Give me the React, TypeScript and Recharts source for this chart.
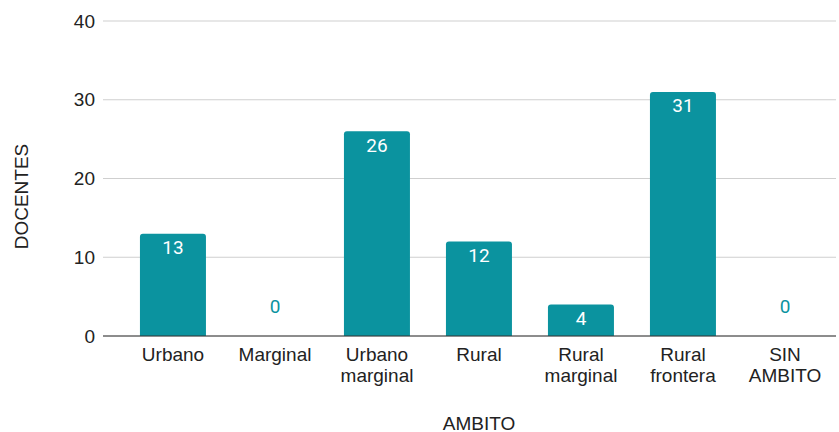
import { ComposedChart, Bar, Line, XAxis, YAxis, CartesianGrid, LabelList } from 'recharts'

const ambitos = ['Urbano', 'Marginal', 'Urbano marginal', 'Rural', 'Rural marginal', 'Rural frontera', 'SIN AMBITO']
const docentes = [13, 0, 26, 12, 4, 31, 0]
const yTicks = [0, 10, 20, 30, 40]

const data = ambitos.map((ambito, i) => ({ ambito, docentes: docentes[i] }))

const TEAL = '#0b939f'
const AXIS_FONT = '"Liberation Sans", Arial, sans-serif'

function CategoryTick(props: any) {
  const { x, y, payload } = props
  const lines = String(payload.value).split(' ')
  return (
    <text x={x} y={y} textAnchor="middle" fill="#222" fontSize={19} fontFamily={AXIS_FONT}>
      {lines.map((l, i) => (
        <tspan key={i} x={x} dy={i === 0 ? 17 : 21}>{l}</tspan>
      ))}
    </text>
  )
}

// label sits inside the top of the bar, or above the baseline when the value is 0
function ValueLabel(props: any) {
  const { x, y, value } = props
  const inside = Number(value) > 0
  return (
    <text
      x={x}
      y={inside ? y + 14 : y - 30}
      textAnchor="middle"
      dominantBaseline="central"
      fill={inside ? '#fff' : TEAL}
      fontSize={19}
      fontFamily="Roboto, sans-serif"
    >
      {value}
    </text>
  )
}

export default function App() {
  return (
    <div style={{ position: 'absolute', left: 0, top: 0, background: '#fff' }}>
      <ComposedChart width={839} height={432} data={data} margin={{ top: 21, right: 3, left: 0, bottom: 0 }} barCategoryGap="17.6%">
        <CartesianGrid vertical={false} stroke="#cfcfcf" />
        <XAxis
          dataKey="ambito"
          height={96}
          padding={{ left: 19, right: 0 }}
          axisLine={{ stroke: '#333' }}
          tickLine={false}
          interval={0}
          tick={<CategoryTick />}
          label={{
            content: (p: any) => {
              const vb = p.viewBox
              return (
                <text x={479} y={vb.y + 87} textAnchor="middle" dominantBaseline="central" fill="#222" fontSize={19} fontFamily={AXIS_FONT}>
                  AMBITO
                </text>
              )
            },
          }}
        />
        <YAxis
          width={103}
          domain={[0, 40]}
          ticks={yTicks}
          axisLine={false}
          tickLine={false}
          tick={{ fill: '#222', fontSize: 19, fontFamily: AXIS_FONT }}
          label={{
            content: (p: any) => {
              const vb = p.viewBox
              const cy = vb.y + vb.height / 2
              return (
                <text x={21} y={cy + 18} textAnchor="middle" dominantBaseline="central" transform={`rotate(-90 21 ${cy + 18})`} fill="#222" fontSize={19} fontFamily={AXIS_FONT}>
                  DOCENTES
                </text>
              )
            },
          }}
        />
        <Bar dataKey="docentes" fill={TEAL} radius={[3, 3, 0, 0]} isAnimationActive={false} />
        <Line dataKey="docentes" stroke="none" dot={false} activeDot={false} legendType="none" isAnimationActive={false}>
          <LabelList dataKey="docentes" content={<ValueLabel />} />
        </Line>
      </ComposedChart>
    </div>
  )
}
